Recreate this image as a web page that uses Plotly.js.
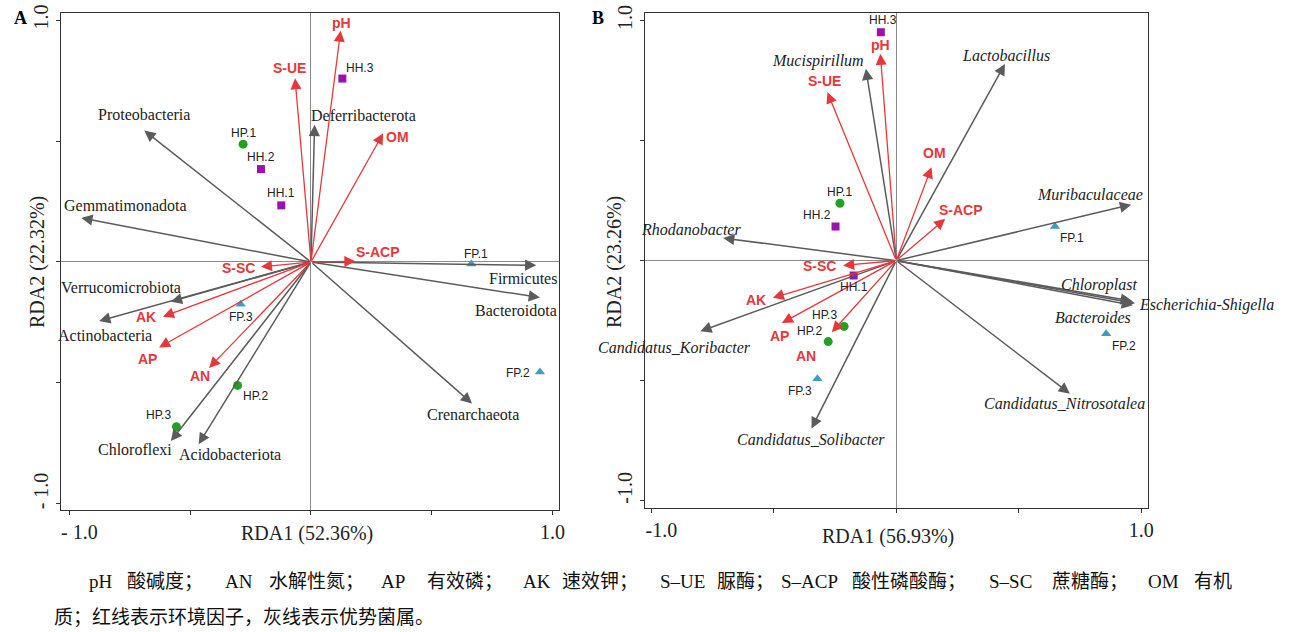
<!DOCTYPE html>
<html><head><meta charset="utf-8">
<script src="https://cdn.plot.ly/plotly-3.0.1.min.js"></script>
<style>html,body{margin:0;padding:0;background:#fff}#chart{width:1290px;height:632px}</style>
</head><body><div id="chart"></div>
<script>
// ---------- Panel A data ----------
const A_envNames = ['pH','S-UE','OM','S-ACP','S-SC','AK','AP','AN'];
const A_envX = [0.123,-0.066,0.299,0.184,-0.207,-0.613,-0.629,-0.422];
const A_envY = [0.956,0.759,0.532,0.003,-0.020,-0.226,-0.353,-0.438];
const A_sppNames = ['Deferribacterota','Proteobacteria','Gemmatimonadota','Firmicutes','Bacteroidota','Crenarchaeota','Verrucomicrobiota','Actinobacteria','Chloroflexi','Acidobacteriota'];
const A_sppX = [0.015,-0.690,-0.951,0.933,0.948,0.667,-0.580,-0.877,-0.580,-0.465];
const A_sppY = [0.567,0.543,0.182,-0.014,-0.147,-0.585,-0.164,-0.244,-0.740,-0.753];
const A_smpNames = ['HH.1','HH.2','HH.3','HP.1','HP.2','HP.3','FP.1','FP.2','FP.3'];
const A_smpX = [-0.123,-0.207,0.130,-0.281,-0.304,-0.557,0.664,0.948,-0.291];
const A_smpY = [0.234,0.384,0.758,0.487,-0.510,-0.681,-0.008,-0.455,-0.175];

// ---------- Panel B data ----------
const B_envNames = ['pH','S-UE','OM','S-ACP','S-SC','AK','AP','AN'];
const B_envX = [-0.065,-0.281,0.144,0.200,-0.217,-0.504,-0.467,-0.263];
const B_envY = [0.861,0.701,0.389,0.174,-0.020,-0.155,-0.260,-0.298];
const B_sppNames = ['Mucispirillum','Lactobacillus','Muribaculaceae','Rhodanobacter','Chloroplast','Escherichia-Shigella','Bacteroides','Candidatus_Koribacter','Candidatus_Solibacter','Candidatus_Nitrosotalea'];
const B_sppX = [-0.124,0.444,0.959,-0.707,0.962,0.975,0.966,-0.800,-0.346,0.709];
const B_sppY = [0.799,0.819,0.233,0.094,-0.168,-0.178,-0.186,-0.294,-0.699,-0.554];
const B_smpNames = ['HH.1','HH.2','HH.3','HP.1','HP.2','HP.3','FP.1','FP.2','FP.3'];
const B_smpX = [-0.174,-0.248,-0.063,-0.230,-0.278,-0.213,0.648,0.857,-0.322];
const B_smpY = [-0.062,0.142,0.951,0.239,-0.337,-0.274,0.142,-0.305,-0.492];

const tickVals = [-1,-0.5,0,0.5,1];

// ---------- label placement (layout only): [x, y, xanchor] ----------
const A_envLab = [[0.126,0.988],[-0.087,0.803],[0.357,0.516],[0.276,0.040],[-0.299,-0.025],[-0.683,-0.226],[-0.678,-0.400],[-0.460,-0.473]];
const A_sppLab = [[0.218,0.604],[-0.693,0.608],[-0.770,0.234],[0.877,-0.069],[0.851,-0.199],[0.670,-0.630],[-0.787,-0.106],[-0.854,-0.302],[-0.729,-0.774],[-0.334,-0.795]];
const A_smpLab = [[-0.123,0.285],[-0.207,0.432],[0.204,0.803],[-0.281,0.535],[-0.230,-0.555],[-0.632,-0.633],[0.683,0.033],[0.856,-0.459],[-0.291,-0.229]];
const B_envLab = [[-0.065,0.896],[-0.291,0.747],[0.157,0.447],[0.265,0.211],[-0.315,-0.021],[-0.574,-0.166],[-0.476,-0.312],[-0.369,-0.397]];
const B_sppLab = [[-0.319,0.831],[0.450,0.854],[0.793,0.275],[-0.837,0.129],[0.826,-0.100],[0.985,-0.184,'left'],[0.802,-0.235],[-0.906,-0.363],[-0.350,-0.745],[0.687,-0.596]];
const B_smpLab = [[-0.174,-0.111],[-0.322,0.188],[-0.056,1.000],[-0.230,0.285],[-0.356,-0.291],[-0.291,-0.226],[0.719,0.093],[0.931,-0.357],[-0.393,-0.544]];

const RED = '#e5383b', GREY = '#5b5b5b';
const SERIF = 'Liberation Serif, Times New Roman, serif';
const SANS = 'Liberation Sans, Arial, sans-serif';
const grpStyle = {HH:{symbol:'square',color:'#9b10b0',size:8}, HP:{symbol:'circle',color:'#22a022',size:9}, FP:{symbol:'triangle-up',color:'#3c9dc0',size:9}};

const traces = [];
const annotations = [];

function panel(xr, yr, envN, envX, envY, envLab, sppN, sppX, sppY, sppLab, smpN, smpX, smpY, smpLab, italic){
  sppN.forEach((n,i)=>{
    annotations.push({xref:xr,yref:yr,axref:xr,ayref:yr,x:sppX[i],y:sppY[i],ax:0,ay:0,text:'',showarrow:true,
      arrowhead:2,arrowsize:1.5,arrowwidth:1.5,arrowcolor:GREY});
    annotations.push({xref:xr,yref:yr,x:sppLab[i][0],y:sppLab[i][1],xanchor:sppLab[i][2]||'center',yanchor:'middle',
      text:italic?('<i>'+n+'</i>'):n,showarrow:false,font:{family:SERIF,size:16,color:'#222'}});
  });
  envN.forEach((n,i)=>{
    annotations.push({xref:xr,yref:yr,axref:xr,ayref:yr,x:envX[i],y:envY[i],ax:0,ay:0,text:'',showarrow:true,
      arrowhead:2,arrowsize:1.7,arrowwidth:1.3,arrowcolor:RED});
    annotations.push({xref:xr,yref:yr,x:envLab[i][0],y:envLab[i][1],xanchor:'center',yanchor:'middle',text:'<b>'+n+'</b>',showarrow:false,
      font:{family:SANS,size:14,color:RED}});
  });
  ['HH','HP','FP'].forEach(g=>{
    const idx = smpN.map((n,i)=>n.startsWith(g)?i:-1).filter(i=>i>=0);
    traces.push({type:'scatter',mode:'markers',xaxis:xr,yaxis:(xr==='x2'?'y2':'y'),
      x:idx.map(i=>smpX[i]),y:idx.map(i=>smpY[i]),
      marker:{symbol:grpStyle[g].symbol,color:grpStyle[g].color,size:grpStyle[g].size},showlegend:false,hoverinfo:'skip'});
  });
  smpN.forEach((n,i)=>{
    annotations.push({xref:xr,yref:yr,x:smpLab[i][0],y:smpLab[i][1],xanchor:'center',yanchor:'middle',text:n,showarrow:false,
      font:{family:SANS,size:12,color:'#222'}});
  });
}
panel('x','y',A_envNames,A_envX,A_envY,A_envLab,A_sppNames,A_sppX,A_sppY,A_sppLab,A_smpNames,A_smpX,A_smpY,A_smpLab,false);
panel('x2','y2',B_envNames,B_envX,B_envY,B_envLab,B_sppNames,B_sppX,B_sppY,B_sppLab,B_smpNames,B_smpX,B_smpY,B_smpLab,true);

function px(x){return x/1290;} function py(y){return 1-y/632;}
function paperText(x,y,text,font,extra){
  annotations.push(Object.assign({xref:'paper',yref:'paper',x:px(x),y:py(y),xanchor:'center',yanchor:'middle',text:text,showarrow:false,font:font},extra||{}));
}
const titleFont = {family:SERIF,size:20,color:'#222'};
paperText(12,18,'<b>A</b>',{family:SERIF,size:18,color:'#000'},{xanchor:'left'});
paperText(590,18,'<b>B</b>',{family:SERIF,size:18,color:'#000'},{xanchor:'left'});
paperText(307,533,'RDA1 (52.36%)',titleFont);
paperText(888,536,'RDA1 (56.93%)',titleFont);
paperText(37,262,'RDA2 (22.32%)',titleFont,{textangle:-90});
paperText(614,262,'RDA2 (23.26%)',titleFont,{textangle:-90});

// caption
const capFont = {family:'Liberation Serif, Noto Sans CJK SC, serif',size:19,color:'#111'};
const capAbbr = ['pH','AN','AP','AK','S–UE','S–ACP','S–SC','OM'];
const capDesc = ['酸碱度；','水解性氮；','有效磷；','速效钾；','脲酶；','酸性磷酸酶；','蔗糖酶；','有机'];
const capAbbrX = [87,223,379,521,658,779,987,1146];
const capDescX = [125,267,425,560,715,850,1050,1192];
capAbbr.forEach((t,i)=>paperText(capAbbrX[i],581,t,capFont,{xanchor:'left'}));
capDesc.forEach((t,i)=>paperText(capDescX[i],581,t,capFont,{xanchor:'left'}));
paperText(52,617,'质；红线表示环境因子，灰线表示优势菌属。',capFont,{xanchor:'left'});

const FS = '\u2007\u2007';
function ax(dom, rng, lbl, anchor){return {domain:dom,range:rng,anchor:anchor,showgrid:false,zeroline:true,zerolinecolor:'#8a8a8a',zerolinewidth:1,
  showline:true,mirror:true,linecolor:'#333',linewidth:1,ticks:'outside',ticklen:4,tickcolor:'#333',tickvals:tickVals,ticktext:lbl,
  tickfont:{family:SERIF,size:20,color:'#222'},fixedrange:true};}

const layout = {
  width:1290,height:632,margin:{l:0,r:0,t:0,b:0},paper_bgcolor:'#fff',plot_bgcolor:'#fff',showlegend:false,
  xaxis: ax([px(61),px(559)],[-1.035,1.027],[FS+'- 1.0','','','','1.0'],'y'),
  yaxis: Object.assign(ax([py(510),py(13)],[-1.025,1.029],[FS+'- 1.0','','','','1.0'],'x'),{tickangle:-90}),
  xaxis2: ax([px(645),px(1148)],[-1.026,1.028],[FS+'-1.0','','','','1.0'],'y2'),
  yaxis2: Object.assign(ax([py(508),py(13)],[-1.030,1.031],[FS+'-1.0','','','','1.0'],'x2'),{tickangle:-90}),
  annotations:annotations
};
Plotly.newPlot('chart',traces,layout,{staticPlot:true,displayModeBar:false});
</script></body></html>
